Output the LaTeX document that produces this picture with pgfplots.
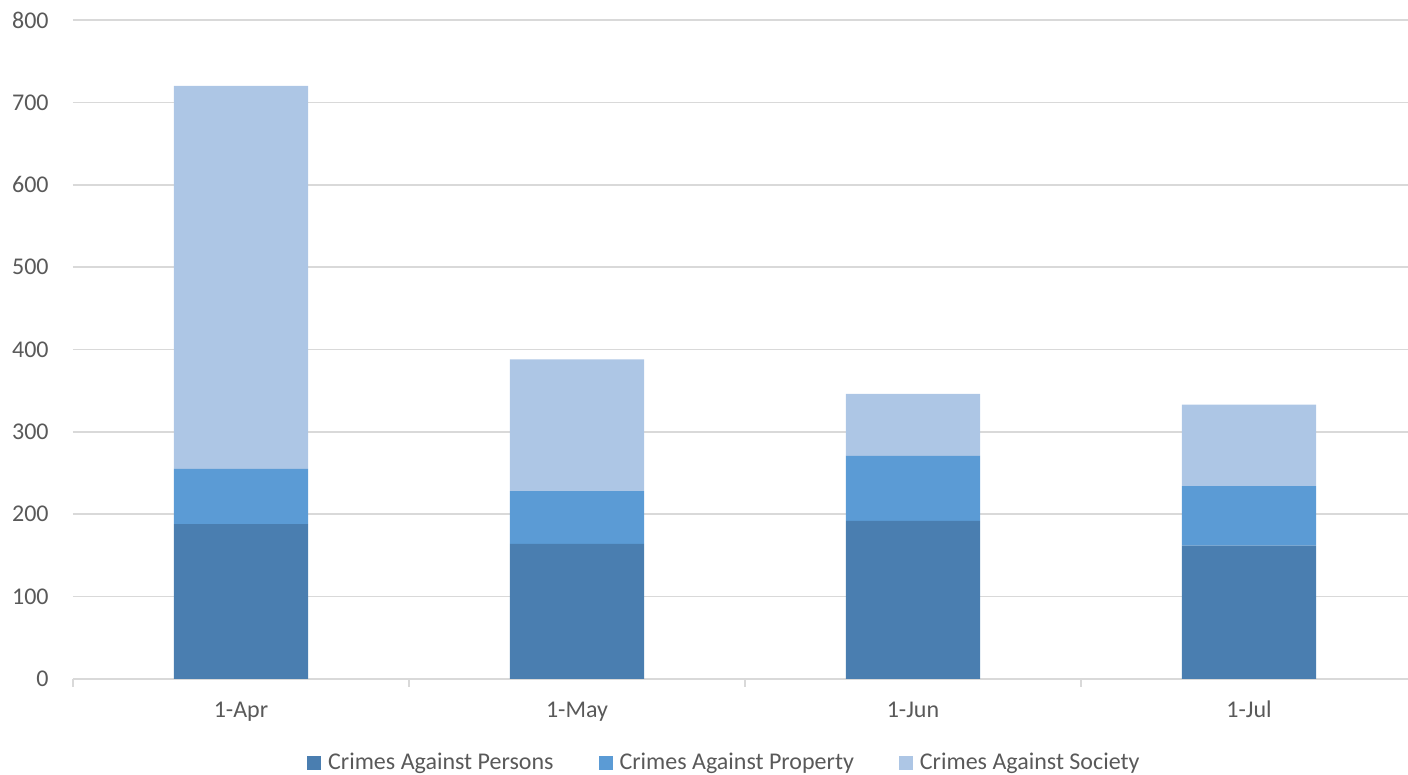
\documentclass[border=0pt]{standalone}
\usepackage{pgfplots}
\pgfplotsset{compat=1.18}
\usepackage{fontspec}
\setmainfont{Carlito}

\definecolor{persons}{HTML}{4A7EB0}
\definecolor{property}{HTML}{5B9BD5}
\definecolor{society}{HTML}{ADC6E5}
\definecolor{gridgray}{HTML}{D9D9D9}
\definecolor{labelgray}{HTML}{595959}

\begin{document}
\begin{tikzpicture}
\begin{axis}[
    name=ax,
    scale only axis,
    width=672pt, height=329.5pt,
    ybar stacked,
    bar width=0.4,
    xmin=-0.5, xmax=3.5,
    ymin=0, ymax=800,
    xtick={0,1,2,3},
    xticklabels={1-Apr,1-May,1-Jun,1-Jul},
    minor xtick={-0.5,0.5,1.5,2.5,3.5},
    ytick={0,100,...,800},
    ymajorgrids,
    grid style={gridgray, line width=0.75pt},
    axis lines*=left,
    x axis line style={gridgray, line width=0.75pt},
    y axis line style={draw=none},
    tick align=outside,
    major tick length=0pt,
    minor tick length=4pt,
    minor tick style={gridgray, line width=0.75pt},
    /pgf/number format/assume math mode=true,
    tick label style={font=\fontsize{12}{14}\selectfont, text=labelgray},
    yticklabel style={inner sep=0pt, xshift=-12pt},
    xticklabel style={anchor=base, inner sep=0pt, yshift=-19.5pt},
    legend style={at={(0.485,-0.1275)}, anchor=center, draw=none, fill=none,
        legend columns=-1, font=\fontsize{12}{14}\selectfont, text=labelgray,
        /tikz/every odd column/.append style={column sep=2pt},
        /tikz/every even column/.append style={column sep=21pt},
        nodes={inner sep=1.5pt}},
    legend image code/.code={\fill[#1] (0pt,-3.5pt) rectangle (7pt,3.5pt);},
]
\addplot[fill=persons, draw=none] coordinates {(0,188) (1,164) (2,192) (3,162)};
\addplot[fill=property, draw=none] coordinates {(0,67) (1,64) (2,79) (3,72)};
\addplot[fill=society, draw=none] coordinates {(0,465) (1,160) (2,75) (3,99)};
\legend{Crimes Against Persons, Crimes Against Property, Crimes Against Society}
\end{axis}
\pgfresetboundingbox
\path (ax.south west) ++(-36.5pt,-48pt) rectangle ++(704pt,387.5pt);
\end{tikzpicture}
\end{document}
